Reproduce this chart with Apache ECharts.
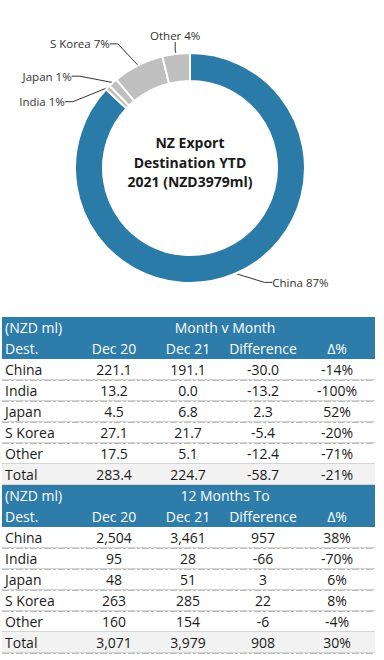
<!DOCTYPE html>
<html>
<head>
<meta charset="utf-8">
<script src="https://cdn.jsdelivr.net/npm/echarts@6/dist/echarts.min.js"></script>
<style>
html,body{margin:0;padding:0;background:#fff;}
#chart{width:384px;height:660px;}
</style>
</head>
<body>
<div id="chart"></div>
<script>
// ---- Data ----
const destinations = ['China', 'India', 'Japan', 'S Korea', 'Other'];
const pieValues = [3461, 28, 51, 285, 154]; // YTD Dec 21, NZD ml
const pieColors = ['#2b7ba8', '#bfbfbf', '#bfbfbf', '#bfbfbf', '#bfbfbf'];
const centerTitle = ['NZ Export', 'Destination YTD', '2021 (NZD3979ml)'];

const tableRows = ['China', 'India', 'Japan', 'S Korea', 'Other', 'Total'];
const colHeaders = ['Dest.', 'Dec 20', 'Dec 21', 'Difference', 'Δ%'];

const mvmTitle = 'Month v Month';
const mvmDec20 = [221.1, 13.2, 4.5, 27.1, 17.5, 283.4];
const mvmDec21 = [191.1, 0.0, 6.8, 21.7, 5.1, 224.7];
const mvmDiff = [-30.0, -13.2, 2.3, -5.4, -12.4, -58.7];
const mvmPct = [-14, -100, 52, -20, -71, -21];

const ytdTitle = '12 Months To';
const ytdDec20 = [2504, 95, 48, 263, 160, 3071];
const ytdDec21 = [3461, 28, 51, 285, 154, 3979];
const ytdDiff = [957, -66, 3, 22, -6, 908];
const ytdPct = [38, -70, 6, 8, -4, 30];

// ---- Layout / style ----
const FONT = '"Open Sans", "Noto Sans", sans-serif';
const HEADER_BLUE = '#2d7caa';
const TABLE_LEFT = 2, TABLE_RIGHT = 375, ROW_H = 21;
const COL_X = [5, 114, 188, 263, 337];
// label nudges (dx, dy) per slice, in the same order as destinations
const LABEL_SHIFT = [[10, -6], [-20, 22], [-19, 2], [-9, -11], [39, -6]];

const chart = echarts.init(document.getElementById('chart'), null, {renderer: 'svg'});

function fmt1(v) { return v.toFixed(1); }
function fmtInt(v) { return v.toLocaleString('en-US'); }
function fmtPct(v) { return v + '%'; }

function buildTable(top, title, c1, c2, c3, c4, fmt) {
  const els = [];
  els.push({type: 'rect', shape: {x: TABLE_LEFT, y: top, width: TABLE_RIGHT - TABLE_LEFT, height: ROW_H * 2},
            style: {fill: HEADER_BLUE}, silent: true});
  const hStyle = {fill: '#fff', font: '14px ' + FONT, textVerticalAlign: 'middle'};
  els.push({type: 'text', x: COL_X[0], y: top + ROW_H / 2,
            style: Object.assign({text: '(NZD ml)', textAlign: 'left'}, hStyle)});
  els.push({type: 'text', x: 225, y: top + ROW_H / 2,
            style: Object.assign({text: title, textAlign: 'center'}, hStyle)});
  colHeaders.forEach((h, i) => {
    els.push({type: 'text', x: COL_X[i], y: top + ROW_H * 1.5,
              style: Object.assign({text: h, textAlign: i === 0 ? 'left' : 'center'}, hStyle)});
  });
  const dStyle = {fill: '#1a1a1a', font: '14px ' + FONT, textVerticalAlign: 'middle'};
  tableRows.forEach((r, j) => {
    const y0 = top + ROW_H * (2 + j);
    if (r === 'Total') {
      els.push({type: 'rect', shape: {x: TABLE_LEFT, y: y0, width: TABLE_RIGHT - TABLE_LEFT, height: ROW_H},
                style: {fill: '#f2f2f2'}, silent: true});
    }
    const cells = [r, fmt(c1[j]), fmt(c2[j]), fmt(c3[j]), fmtPct(c4[j])];
    cells.forEach((t, i) => {
      els.push({type: 'text', x: COL_X[i], y: y0 + ROW_H / 2,
                style: Object.assign({text: t, textAlign: i === 0 ? 'left' : 'center'}, dStyle)});
    });
    els.push({type: 'line', shape: {x1: TABLE_LEFT, y1: y0 + ROW_H - 0.5, x2: TABLE_RIGHT, y2: y0 + ROW_H - 0.5},
              style: {stroke: '#d4d4d4', lineWidth: 1}, silent: true});
    els.push({type: 'line', shape: {x1: TABLE_LEFT, y1: y0 + ROW_H + 0.5, x2: TABLE_RIGHT, y2: y0 + ROW_H + 0.5},
              style: {stroke: '#bdbdbd', lineWidth: 1, lineDash: [7, 2, 3, 2]}, silent: true});
  });
  return els;
}

const T1 = 317;
const T2 = T1 + ROW_H * 8;
const graphics = []
  .concat(buildTable(T1, mvmTitle, mvmDec20, mvmDec21, mvmDiff, mvmPct, fmt1))
  .concat(buildTable(T2, ytdTitle, ytdDec20, ytdDec21, ytdDiff, ytdPct, fmtInt));

graphics.push({
  type: 'text', x: 190, y: 162,
  style: {text: centerTitle.join('\n'), textAlign: 'center', textVerticalAlign: 'middle',
          font: 'bold 14px ' + FONT, fill: '#1a1a1a', lineHeight: 19.5}
});

chart.setOption({
  animation: false,
  series: [{
    type: 'pie',
    center: [190, 168],
    radius: [87, 115],
    startAngle: 90,
    clockwise: true,
    avoidLabelOverlap: false,
    itemStyle: {borderColor: '#fff', borderWidth: 2},
    label: {
      show: true,
      formatter: p => p.name + ' ' + Math.round(p.percent) + '%',
      fontFamily: FONT, fontSize: 11.5, color: '#333',
      padding: [2, 4]
    },
    labelLine: {show: true, length: 14, length2: 8, lineStyle: {color: '#333', width: 1}},
    labelLayout: p => ({
      x: p.labelRect.x + LABEL_SHIFT[p.dataIndex][0],
      y: p.labelRect.y + LABEL_SHIFT[p.dataIndex][1],
      align: 'left', verticalAlign: 'top'
    }),
    data: destinations.map((d, i) => ({name: d, value: pieValues[i], itemStyle: {color: pieColors[i]}}))
  }],
  graphic: graphics
});
</script>
</body>
</html>
